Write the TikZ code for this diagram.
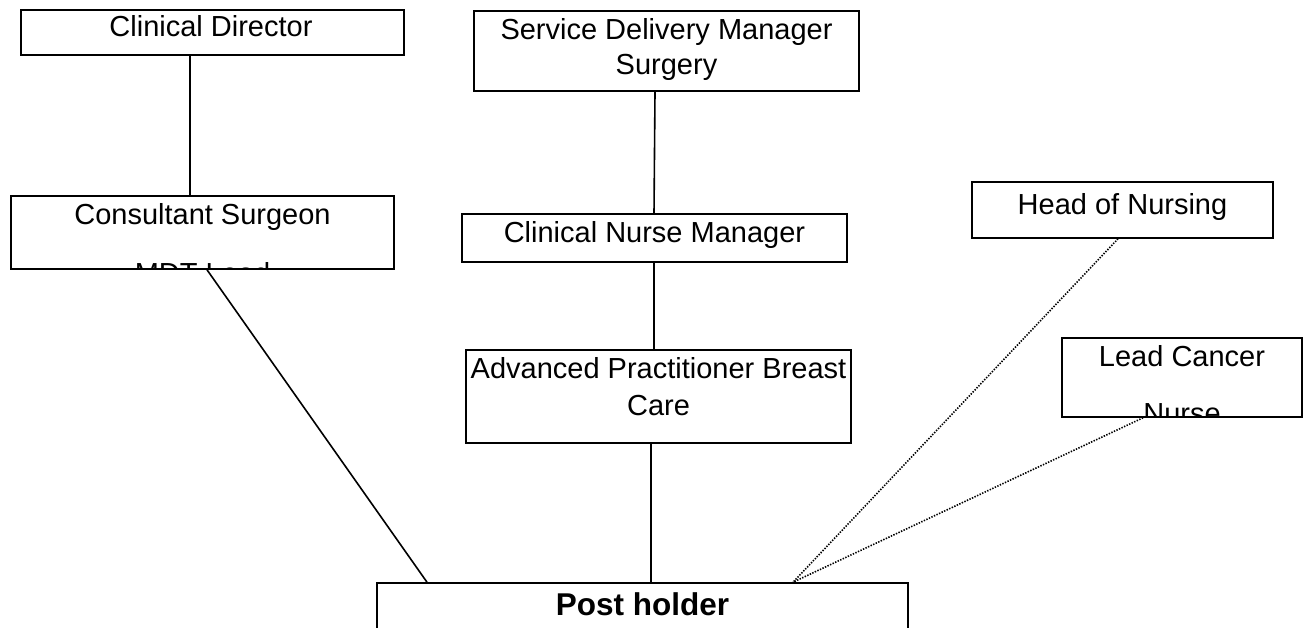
\documentclass[tikz,border=0pt]{standalone}
\usepackage{fontspec}
\setmainfont{Liberation Sans}
\begin{document}
\begin{tikzpicture}[x=1pt,y=-1pt,
  box/.style={draw=black,line width=1.6pt,rectangle,inner sep=0pt,fill=none},
  txt/.style={inner sep=0pt,anchor=base,font=\fontsize{29}{34}\selectfont},
  solidlink/.style={draw=black,line width=1.6pt},
  dotlink/.style={draw=black,line width=1.6pt,dash pattern=on 1.4pt off 1.4pt}]
\clip (0,0) rectangle (1308,628);
\fill[white] (0,0) rectangle (1308,628);
% boxes
\node[box,minimum width=383pt,minimum height=45pt] (cd) at (212.5,32.5) {};
\node[box,minimum width=383pt,minimum height=73pt] (cs) at (202.5,232.5) {};
\node[box,minimum width=385pt,minimum height=80pt] (sdm) at (666.5,51) {};
\node[box,minimum width=385pt,minimum height=48pt] (cnm) at (654.5,238) {};
\node[box,minimum width=385pt,minimum height=93pt] (ap) at (658.5,396.5) {};
\node[box,minimum width=301pt,minimum height=56pt] (hon) at (1122.5,210) {};
\node[box,minimum width=240pt,minimum height=79pt] (lcn) at (1182,377.5) {};
\node[box,minimum width=531pt,minimum height=90pt] (ph) at (642.5,628) {};
% texts
\node[txt] (cdt) at (211,37) {Clinical Director};
\node[txt] (cst) at (202.5,225) {Consultant Surgeon};
\begin{scope}
\clip (cs.south west) rectangle (cs.north east);
\node[txt] (cst2) at (202.5,283) {MDT Lead};
\end{scope}
\node[txt] (sdmt) at (666.5,40) {Service Delivery Manager};
\node[txt] (sdmt2) at (666.5,75) {Surgery};
\node[txt] (cnmt) at (654.5,243) {Clinical Nurse Manager};
\node[txt] (apt) at (658.5,378) {Advanced Practitioner Breast};
\node[txt] (apt2) at (658.5,415) {Care};
\node[txt] (hont) at (1122.5,215) {Head of Nursing};
\node[txt] (lcnt) at (1182,366) {Lead Cancer};
\begin{scope}
\clip (lcn.south west) rectangle (lcn.north east);
\node[txt] (lcnt2) at (1182,423) {Nurse};
\end{scope}
\node[txt,font=\bfseries\fontsize{31.5}{36}\selectfont] (pht) at (642.5,615) {Post holder};
% connectors
\draw[solidlink] (cd.south -| 190,0) -- (cs.north -| 190,0);
\draw[solidlink] (sdm.south -| 655,0) -- (cnm.north -| 654,0);
\draw[solidlink] (cnm.south -| 654,0) -- (ap.north -| 654,0);
\draw[solidlink] (ap.south -| 651,0) -- (ph.north -| 651,0);
\draw[solidlink] (cs.south -| 207,0) -- (ph.north -| 427,0);
\draw[dotlink] (hon.south -| 1118,0) -- (ph.north -| 793,0);
\draw[dotlink] (lcn.south -| 1143,0) -- (ph.north -| 793,0);
\end{tikzpicture}
\end{document}
